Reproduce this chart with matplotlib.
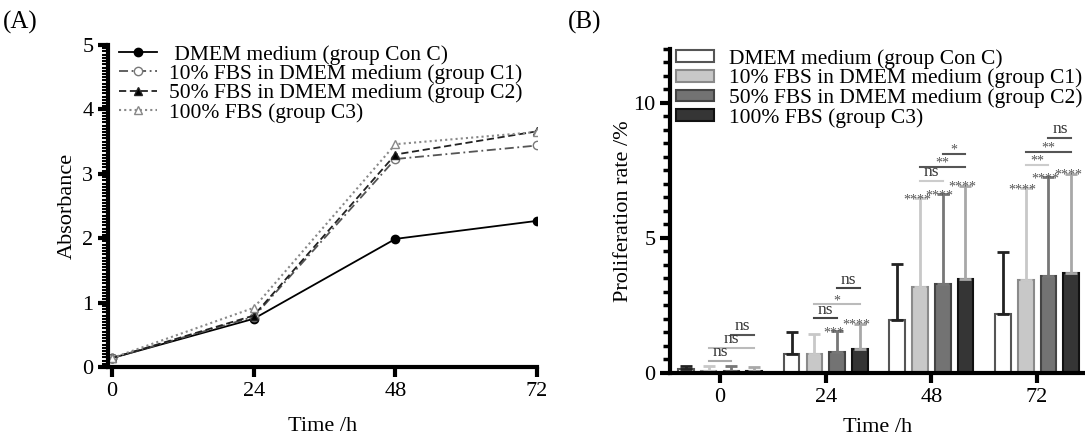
""" Absorbance curves (A) and proliferation rate bars (B) """

import numpy as np
import matplotlib.pyplot as plt
from matplotlib.ticker import MultipleLocator

plt.rcParams['font.family'] = ['Liberation Serif', 'DejaVu Serif']

# ---- data ----
times = [0, 24, 48, 72]
group_labels = [' DMEM medium (group Con C)', '10% FBS in DMEM medium (group C1)',
                '50% FBS in DMEM medium (group C2)', '100% FBS (group C3)']

absorb_con = [0.14, 0.75, 1.99, 2.27]
absorb_c1 = [0.14, 0.78, 3.23, 3.44]
absorb_c2 = [0.14, 0.80, 3.30, 3.66]
absorb_c3 = [0.14, 0.92, 3.46, 3.65]

prolif_con = [0.14, 0.72, 1.96, 2.18]
prolif_c1 = [0.09, 0.72, 3.19, 3.44]
prolif_c2 = [0.09, 0.77, 3.28, 3.59]
prolif_c3 = [0.07, 0.89, 3.49, 3.71]
err_con = [0.12, 0.78, 2.07, 2.29]
err_c1 = [0.16, 0.74, 3.28, 3.40]
err_c2 = [0.16, 0.78, 3.34, 3.66]
err_c3 = [0.15, 0.94, 3.44, 3.67]

# significance brackets: (group, bar i, bar j, y, label)
brackets = [
    (0, 1, 2, 0.45, 'ns'), (0, 1, 3, 0.93, 'ns'), (0, 2, 3, 1.42, 'ns'),
    (1, 1, 2, 2.02, 'ns'), (1, 1, 3, 2.54, '*'), (1, 2, 3, 3.13, 'ns'),
    (2, 1, 2, 7.12, 'ns'), (2, 1, 3, 7.62, '**'), (2, 2, 3, 8.11, '*'),
    (3, 1, 2, 7.71, '**'), (3, 1, 3, 8.18, '**'), (3, 2, 3, 8.70, 'ns'),
]
bracket_colors = ['#aaaaaa', '#bbbbbb', '#555555',
                  '#444444', '#bbbbbb', '#444444',
                  '#cccccc', '#555555', '#555555',
                  '#cccccc', '#555555', '#555555']
# stars vs control above single bars: (group, bar, label)
bar_stars = [(1, 2, '***'), (1, 3, '****'),
             (2, 1, '****'), (2, 2, '****'), (2, 3, '****'),
             (3, 1, '****'), (3, 2, '****'), (3, 3, '****')]

fig = plt.figure(figsize=(10.85, 4.37), dpi=100)

# ---------------- panel A ----------------
axA = fig.add_axes([0.0995, 0.160, 0.3955, 0.737])
styles = [
    dict(color='black', ls='-', marker='o', mfc='black', lw=1.3),
    dict(color='#555555', ls=(0, (5, 2, 1, 2)), marker='o', mfc='white', mec='#777777', lw=1.3),
    dict(color='#222222', ls=(0, (4, 2)), marker='^', mfc='black', lw=1.3),
    dict(color='#888888', ls=(0, (1, 1.5)), marker='^', mfc='white', mec='#888888', lw=1.5),
]
for vals, lab, st in zip([absorb_con, absorb_c1, absorb_c2, absorb_c3], group_labels, styles):
    axA.plot(times, vals, label=lab, ms=6, **st)

axA.set_xlim(-0.7, 72)
axA.set_ylim(0, 5)
axA.set_xticks(times)
axA.set_yticks(range(6))
axA.yaxis.set_minor_locator(MultipleLocator(0.05))
axA.spines['top'].set_visible(False)
axA.spines['right'].set_visible(False)
for s in ['left', 'bottom']:
    axA.spines[s].set_linewidth(3)
axA.tick_params(axis='both', which='major', width=3, length=7, labelsize=16, direction='out')
axA.tick_params(axis='y', which='minor', width=1.5, length=4)
axA.set_xlabel('Time /h', fontsize=16, labelpad=12)
axA.set_ylabel('Absorbance', fontsize=16, labelpad=4)
axA.legend(loc='upper left', bbox_to_anchor=(0.0, 1.035), frameon=False, fontsize=15.5,
           handlelength=1.8, handletextpad=0.55, labelspacing=-0.03, borderaxespad=0.2,
           borderpad=0.3)
fig.text(0.003, 0.935, '(A)', fontsize=18)

# ---------------- panel B ----------------
axB = fig.add_axes([0.6175, 0.1465, 0.3825, 0.7414])
x = np.arange(len(times))
spacing = 0.215
width = 0.148
face = ['white', '#c8c8c8', '#737373', '#353535']
edge = ['#555555', '#8a8a8a', '#444444', '#111111']
ecol = ['#222222', '#c8c8c8', '#777777', '#a8a8a8']
means = [prolif_con, prolif_c1, prolif_c2, prolif_c3]
errs = [err_con, err_c1, err_c2, err_c3]
for k in range(4):
    pos = x + (k - 1.5) * spacing
    axB.bar(pos, means[k], width=width, color=face[k], edgecolor=edge[k], lw=1.5,
            label=group_labels[k].strip())
    axB.errorbar(pos, means[k], yerr=[np.zeros(4), errs[k]], fmt='none',
                 ecolor=ecol[k], elinewidth=2, capsize=4, capthick=2)

for (g, i, j, yv, lab), col in zip(brackets, bracket_colors):
    xi = g + (i - 1.5) * spacing
    xj = g + (j - 1.5) * spacing
    axB.plot([xi, xj], [yv, yv], color=col, lw=1.5)
    if lab == 'ns':
        axB.text((xi + xj) / 2, yv + 0.03, lab, ha='center', va='bottom', fontsize=12.5, color='#333333')
    else:
        axB.text((xi + xj) / 2, yv - 0.1, lab, ha='center', va='bottom', fontsize=10, color='#555555')

for g, k, lab in bar_stars:
    top = means[k][g] + errs[k][g]
    axB.text(g + (k - 1.5) * spacing - 0.03, top - 0.3, lab, ha='center', va='bottom',
             fontsize=10, color='#555555')

axB.set_xlim(-0.473, 3.453)
axB.set_ylim(0, 12)
axB.set_xticks(x)
axB.set_xticklabels(times)
axB.set_yticks([0, 5, 10])
axB.yaxis.set_minor_locator(MultipleLocator(0.5))
axB.spines['top'].set_visible(False)
axB.spines['right'].set_visible(False)
for s in ['left', 'bottom']:
    axB.spines[s].set_linewidth(3)
axB.tick_params(axis='both', which='major', width=3, length=7, labelsize=16, direction='out')
axB.tick_params(axis='y', which='minor', width=2.5, length=5)
axB.set_xlabel('Time /h', fontsize=16, labelpad=8)
axB.set_ylabel('Proliferation rate /%', fontsize=16, labelpad=0)
axB.legend(loc='upper left', bbox_to_anchor=(0.0, 1.02), frameon=False, fontsize=15.5,
           handlelength=1.75, handleheight=0.45, handletextpad=0.7, labelspacing=0.0,
           borderaxespad=0.0, borderpad=0.3)
fig.text(0.523, 0.935, '(B)', fontsize=18)

fig.savefig('out.png', dpi=100)
